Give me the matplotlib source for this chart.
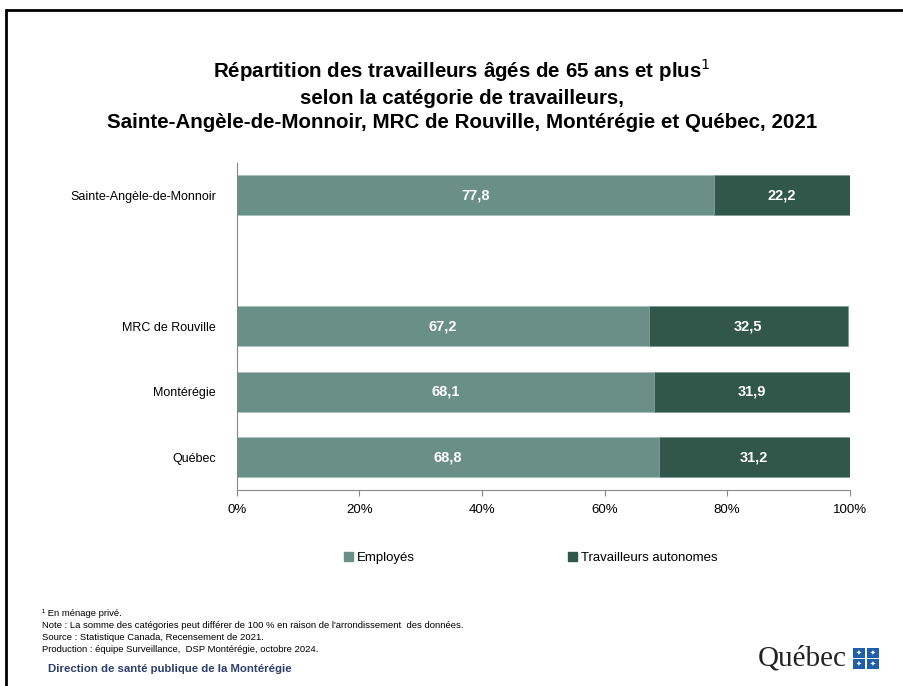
import matplotlib
matplotlib.use("Agg")
import matplotlib.pyplot as plt
from matplotlib.patches import Rectangle

plt.rcParams["font.family"] = ["Liberation Sans", "DejaVu Sans"]

# data
regions = ["Sainte-Angèle-de-Monnoir", "MRC de Rouville", "Montérégie", "Québec"]
positions = [0, 2, 3, 4]
employes = [77.8, 67.2, 68.1, 68.8]
autonomes = [22.2, 32.5, 31.9, 31.2]
series_names = ["Employés", "Travailleurs autonomes"]
x_ticks = [0, 20, 40, 60, 80, 100]

c_emp = "#6a8f87"
c_aut = "#30574a"

fig = plt.figure(figsize=(9.04, 6.86), dpi=100)
ax = fig.add_axes([0.262, 0.286, 0.678, 0.477])

ax.barh(positions, employes, height=0.61, color=c_emp, edgecolor="#a9c2bb", linewidth=0.6)
ax.barh(positions, autonomes, left=employes, height=0.61, color=c_aut, edgecolor="#7d9c94", linewidth=0.6)

for p, e, a in zip(positions, employes, autonomes):
    ax.text(e / 2, p, f"{e:.1f}".replace(".", ","), ha="center", va="center",
            color="white", fontsize=10.5, fontweight="bold")
    ax.text(e + a / 2, p, f"{a:.1f}".replace(".", ","), ha="center", va="center",
            color="white", fontsize=10.5, fontweight="bold")

ax.set_xlim(0, 100)
ax.set_ylim(4.5, -0.5)
ax.set_yticks(positions)
ax.set_yticklabels(regions, fontsize=9)
ax.set_xticks(x_ticks)
ax.set_xticklabels([f"{t}%" for t in x_ticks], fontsize=9.5)
ax.tick_params(axis="y", length=0, pad=15)
ax.tick_params(axis="x", length=4, color="#888888", pad=6)
for s in ["top", "right"]:
    ax.spines[s].set_visible(False)
ax.spines["left"].set_color("#888888")
ax.spines["bottom"].set_color("#888888")

# title
fig.text(0.511, 0.918, "Répartition des travailleurs âgés de 65 ans et plus$^1$\n"
         "selon la catégorie de travailleurs,\n"
         "Sainte-Angèle-de-Monnoir, MRC de Rouville, Montérégie et Québec, 2021",
         ha="center", va="top", fontsize=14.8, fontweight="bold", linespacing=1.33)

# legend
handles = [Rectangle((0, 0), 1, 1, color=c_emp), Rectangle((0, 0), 1, 1, color=c_aut)]
fig.legend(handles, series_names, loc="center", bbox_to_anchor=(0.587, 0.187), ncol=2,
           frameon=False, fontsize=9.5, handlelength=0.7, handleheight=0.7,
           handletextpad=0.3, columnspacing=11.6)

# notes
notes = ["¹ En ménage privé.",
         "Note : La somme des catégories peut différer de 100 % en raison de l'arrondissement  des données.",
         "Source : Statistique Canada, Recensement de 2021.",
         "Production : équipe Surveillance,  DSP Montérégie, octobre 2024."]
for i, n in enumerate(notes):
    fig.text(0.046, 1 - (613 + i * 12.3) / 686, n, fontsize=6.8, va="center")
fig.text(0.053, 1 - 669 / 686, "Direction de santé publique de la Montérégie",
         fontsize=8.2, fontweight="bold", color="#2d3e6b", va="center")

# Québec signature
fig.text(758 / 904, 1 - 659 / 686, "Québec", family="Liberation Serif", fontsize=21,
         color="#222222", va="center")
for dx, dy in [(0, 0), (14, 0), (0, 11), (14, 11)]:
    x0 = (853 + dx) / 904
    y0 = 1 - (648 + dy + 10) / 686
    fig.patches.append(Rectangle((x0, y0), 12 / 904, 10 / 686, transform=fig.transFigure,
                                 facecolor="#1f5fa8", edgecolor="none"))
    fig.text(x0 + 6 / 904, y0 + 5 / 686, "✦", fontsize=5, color="white",
             ha="center", va="center", family="DejaVu Sans")

# outer frame
fig.patches.append(Rectangle((6.5 / 904, -0.05), 1.0, 1 - 10 / 686 + 0.05,
                             transform=fig.transFigure, fill=False,
                             edgecolor="black", linewidth=2))

fig.savefig("out.png", dpi=100)
